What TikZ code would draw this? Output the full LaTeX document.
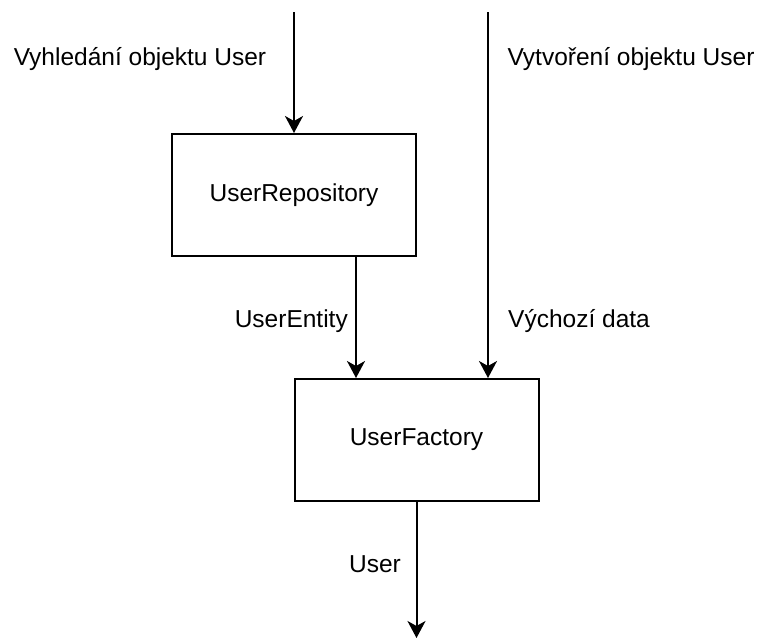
\documentclass[tikz,border=0pt]{standalone}
\usepackage{fontspec}
\setmainfont{Liberation Sans}
\usetikzlibrary{arrows.meta,positioning}

\tikzset{
    block/.style={draw, line width=2pt, minimum width=244pt, minimum height=122pt, inner sep=0pt, font=\fontsize{24.5}{28}\selectfont},
    flow/.style={line width=2pt, -{Stealth[length=17pt,width=18pt,inset=5pt]}},
    caption/.style={inner sep=0pt, font=\fontsize{24.5}{28}\selectfont}
}

\begin{document}
\begin{tikzpicture}[x=1pt,y=-1pt]
            \useasboundingbox (0,0) rectangle (758,638);
            \node[block] (repo) at (294,195) {UserRepository};
            \node[block] (factory) at (416.5,440) {UserFactory};
            \coordinate (findin) at (294,12);
            \coordinate (createin) at (488,12);
            \coordinate (userout) at (416.5,638);
            \node[caption, anchor=base] (findlbl) at (140,65) {Vyhledání objektu User};
            \node[caption, anchor=base] (createlbl) at (631,65) {Vytvoření objektu User};
            \node[caption, anchor=base east] (entitylbl) at (348,327) {UserEntity};
            \node[caption, anchor=base west] (datalbl) at (508,327) {Výchozí data};
            \node[caption, anchor=base east] (userlbl) at (401,572) {User};
            \draw[flow] (findin) -- (repo.north);
            \draw[flow] ([xshift=62pt]repo.south) -- ([xshift=62pt]repo.south |- factory.north);
            \draw[flow] (createin) -- (createin |- factory.north);
            \draw[flow] (factory.south) -- (userout);
        \end{tikzpicture}
\end{document}
